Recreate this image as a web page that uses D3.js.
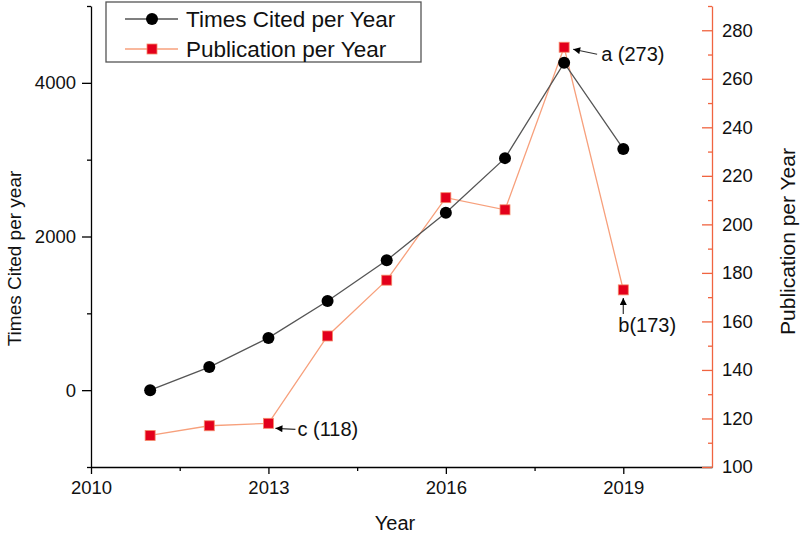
<!DOCTYPE html>
<html>
<head>
<meta charset="utf-8">
<script src="https://cdn.jsdelivr.net/npm/d3@7"></script>
<style>
  html, body { margin: 0; padding: 0; background: #fff; }
  svg { display: block; font-family: "Liberation Sans", Arial, sans-serif; }
</style>
</head>
<body>
<svg id="chart" width="800" height="537"></svg>
<script>
// ---- data ----
const years = [2011, 2012, 2013, 2014, 2015, 2016, 2017, 2018, 2019];
const timesCited = [0, 300, 680, 1160, 1690, 2310, 3020, 4260, 3140];
const publications = [113, 117, 118, 154, 177, 211, 206, 273, 173];
const xTicksMajor = [2010, 2013, 2016, 2019];
const xTicksMinor = [2011.5, 2014.5, 2017.5];
const leftTicksMajor = [0, 2000, 4000];
const leftTicksMinor = [-1000, 1000, 3000, 5000];
const rightTicksMajor = [100, 120, 140, 160, 180, 200, 220, 240, 260, 280];
const rightTicksMinor = [110, 130, 150, 170, 190, 210, 230, 250, 270, 290];
const seriesNames = ["Times Cited per Year", "Publication per Year"];
const annotations = [
  { label: "a (273)", year: 2018, value: 273 },
  { label: "b(173)", year: 2019, value: 173 },
  { label: "c (118)", year: 2013, value: 118 }
];

// ---- layout ----
const L = 91, R = 712, T = 6, B = 467;
const FONT = "Liberation Sans, Arial, sans-serif";
const BLACK_LINE = "#555";
const ORANGE_LINE = "#f7a07c";
const ORANGE_AXIS = "#f06440";
const RED = "#e3001b";
const TICK_FONT = 18.5;

const svg = d3.select("#chart");
const x = d3.scaleLinear().domain([2010, 2020.5]).range([L, R]);
const yL = d3.scaleLinear().domain([-1000, 5000]).range([B, T]);
const yR = d3.scaleLinear().domain([100, 290]).range([B, T]);

svg.append("rect").attr("width", 800).attr("height", 537).attr("fill", "#fff");

svg.append("defs").append("marker")
  .attr("id", "arrow").attr("viewBox", "0 0 10 10")
  .attr("refX", 10).attr("refY", 5)
  .attr("markerWidth", 9).attr("markerHeight", 7)
  .attr("markerUnits", "userSpaceOnUse")
  .attr("orient", "auto")
  .append("path").attr("d", "M0,0 L10,5 L0,10 Z").attr("fill", "#000");

function styleAxis(g, color, size) {
  g.selectAll("path, line").attr("stroke", color).attr("stroke-width", 1.3);
  g.selectAll("text").attr("fill", "#111").attr("font-size", size).attr("font-family", FONT);
}

// bottom axis
const gx = svg.append("g").attr("transform", `translate(0,${B})`)
  .call(d3.axisBottom(x).tickValues(xTicksMajor).tickFormat(d3.format("d")).tickSize(7).tickSizeOuter(0).tickPadding(7));
styleAxis(gx, "#000", TICK_FONT);
const gxm = svg.append("g").attr("transform", `translate(0,${B})`)
  .call(d3.axisBottom(x).tickValues(xTicksMinor).tickFormat("").tickSize(4).tickSizeOuter(0));
styleAxis(gxm, "#000", TICK_FONT);
gxm.select(".domain").remove();

// left axis
const gl = svg.append("g").attr("transform", `translate(${L},0)`)
  .call(d3.axisLeft(yL).tickValues(leftTicksMajor).tickFormat(d3.format("d")).tickSize(9).tickSizeOuter(0).tickPadding(6));
styleAxis(gl, "#000", TICK_FONT);
const glm = svg.append("g").attr("transform", `translate(${L},0)`)
  .call(d3.axisLeft(yL).tickValues(leftTicksMinor).tickFormat("").tickSize(4).tickSizeOuter(0));
styleAxis(glm, "#000", TICK_FONT);
glm.select(".domain").remove();

// right axis (ticks pointing inward)
const gr = svg.append("g").attr("transform", `translate(${R},0)`)
  .call(d3.axisRight(yR).tickValues(rightTicksMajor).tickFormat(d3.format("d")).tickSize(-10).tickSizeOuter(0).tickPadding(10));
styleAxis(gr, ORANGE_AXIS, TICK_FONT);
const grm = svg.append("g").attr("transform", `translate(${R},0)`)
  .call(d3.axisRight(yR).tickValues(rightTicksMinor).tickFormat("").tickSize(-4).tickSizeOuter(0));
styleAxis(grm, ORANGE_AXIS, TICK_FONT);
grm.select(".domain").remove();

// axis titles
svg.append("text").attr("x", 395).attr("y", 530)
  .attr("text-anchor", "middle").attr("font-size", 20).attr("fill", "#111").text("Year");
svg.append("text").attr("transform", `translate(21,${(T + B) / 2 + 22}) rotate(-90)`)
  .attr("text-anchor", "middle").attr("font-size", 19).attr("fill", "#111").text("Times Cited per year");
svg.append("text").attr("transform", `translate(795,${(T + B) / 2 + 5}) rotate(-90)`)
  .attr("text-anchor", "middle").attr("font-size", 21).attr("fill", "#111").text("Publication per Year");

// series
const pubData = years.map((y, i) => ({ year: y, v: publications[i] }));
const citeData = years.map((y, i) => ({ year: y, v: timesCited[i] }));

svg.append("path").datum(pubData)
  .attr("fill", "none").attr("stroke", ORANGE_LINE).attr("stroke-width", 1.3)
  .attr("d", d3.line().x(d => x(d.year)).y(d => yR(d.v)));
svg.append("path").datum(citeData)
  .attr("fill", "none").attr("stroke", BLACK_LINE).attr("stroke-width", 1.3)
  .attr("d", d3.line().x(d => x(d.year)).y(d => yL(d.v)));

svg.selectAll("circle.cite").data(citeData).enter().append("circle")
  .attr("class", "cite").attr("cx", d => x(d.year)).attr("cy", d => yL(d.v))
  .attr("r", 6).attr("fill", "#000");
svg.selectAll("rect.pub").data(pubData).enter().append("rect")
  .attr("class", "pub").attr("x", d => x(d.year) - 5).attr("y", d => yR(d.v) - 5)
  .attr("width", 10).attr("height", 10).attr("fill", RED)
  .attr("stroke", "#f58a6a").attr("stroke-width", 0.8);

// annotations
const annOffsets = {
  "a (273)": { x1: 33, y1: 7, x2: 9, y2: 2, tx: 37, ty: 14 },
  "b(173)": { x1: 0, y1: 24, x2: 0, y2: 8, tx: -5, ty: 42 },
  "c (118)": { x1: 27, y1: 6, x2: 7, y2: 5, tx: 29, ty: 13 }
};
annotations.forEach(a => {
  const px = x(a.year), py = yR(a.value), o = annOffsets[a.label];
  svg.append("line").attr("x1", px + o.x1).attr("y1", py + o.y1)
    .attr("x2", px + o.x2).attr("y2", py + o.y2)
    .attr("stroke", "#333").attr("stroke-width", 1.2).attr("marker-end", "url(#arrow)");
  svg.append("text").attr("x", px + o.tx).attr("y", py + o.ty)
    .attr("font-size", 20).attr("fill", "#111").text(a.label);
});

// legend
const lg = svg.append("g");
lg.append("rect").attr("x", 106).attr("y", 2).attr("width", 315).attr("height", 60)
  .attr("fill", "#fff").attr("stroke", "#555").attr("stroke-width", 1.3);
const rows = [19, 49];
lg.append("line").attr("x1", 125).attr("x2", 178).attr("y1", rows[0]).attr("y2", rows[0])
  .attr("stroke", BLACK_LINE).attr("stroke-width", 1.3);
lg.append("circle").attr("cx", 152).attr("cy", rows[0]).attr("r", 6).attr("fill", "#000");
lg.append("line").attr("x1", 125).attr("x2", 178).attr("y1", rows[1]).attr("y2", rows[1])
  .attr("stroke", ORANGE_LINE).attr("stroke-width", 1.3);
lg.append("rect").attr("x", 147).attr("y", rows[1] - 5).attr("width", 10).attr("height", 10)
  .attr("fill", RED).attr("stroke", "#f58a6a").attr("stroke-width", 0.8);
seriesNames.forEach((n, i) => {
  lg.append("text").attr("x", 186).attr("y", rows[i] + 8)
    .attr("font-size", 22.5).attr("fill", "#111").text(n);
});
</script>
</body>
</html>
